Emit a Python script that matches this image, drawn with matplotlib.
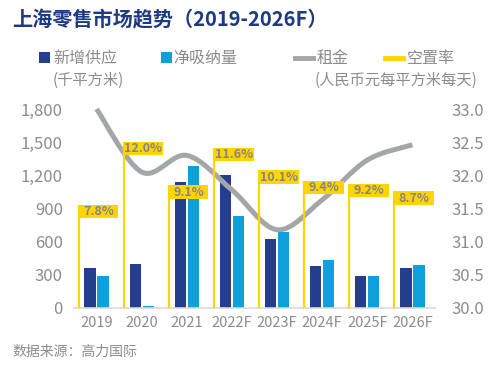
import matplotlib
matplotlib.use("Agg")
import matplotlib.pyplot as plt
from matplotlib.path import Path
from matplotlib.patches import PathPatch, Rectangle
import numpy as np

plt.rcParams['font.family'] = ['Noto Sans CJK SC', 'DejaVu Sans']

categories = ["2019", "2020", "2021", "2022F", "2023F", "2024F", "2025F", "2026F"]
new_supply = [360, 400, 1140, 1200, 620, 380, 290, 360]
net_absorption = [290, 20, 1280, 830, 690, 430, 290, 385]
rent = [33.0, 32.05, 32.3, 31.78, 31.18, 31.63, 32.23, 32.46]
vacancy = [7.8, 12.0, 9.1, 11.6, 10.1, 9.4, 9.2, 8.7]
left_ticks = [0, 300, 600, 900, 1200, 1500, 1800]
right_ticks = [30.0, 30.5, 31.0, 31.5, 32.0, 32.5, 33.0]

DARK = "#243D8C"
LIGHT = "#0FA0DA"
GRAY = "#A4A7A8"
YELLOW = "#FFD500"
TXT = "#8C8C8C"

fig = plt.figure(figsize=(5, 3.7), dpi=100)
ax = fig.add_axes([0.148, 0.1676, 0.722, 0.5378])
x = np.arange(len(categories))

ax.bar(x - 0.145, new_supply, width=0.25, color=DARK, zorder=2)
ax.bar(x + 0.145, net_absorption, width=0.25, color=LIGHT, zorder=2)
ax.set_xlim(-0.5, len(categories) - 0.5)
ax.set_ylim(0, 1800)
ax.set_yticks(left_ticks)
ax.set_yticklabels([f"{v:,}" for v in left_ticks])
ax.set_xticks(x)
ax.set_xticklabels(categories)
for s in ["top", "right", "left"]:
    ax.spines[s].set_visible(False)
ax.spines["bottom"].set_color("#D9D9D9")
ax.spines["bottom"].set_linewidth(1.2)
ax.tick_params(axis="y", length=0, labelsize=12, colors=TXT, pad=8)
ax.tick_params(axis="x", length=0, labelsize=10.5, colors=TXT, pad=6)

# rent axis
ax2 = ax.twinx()
ax2.set_ylim(30.0, 33.0)
ax2.set_yticks(right_ticks)
ax2.set_yticklabels([f"{v:.1f}" for v in right_ticks])
for s in ax2.spines.values():
    s.set_visible(False)
ax2.tick_params(axis="y", length=0, labelsize=12, colors=TXT, pad=12)

# smooth rent line (Catmull-Rom -> Bezier)
pts = np.column_stack([x, rent]).astype(float)
verts = [tuple(pts[0])]
codes = [Path.MOVETO]
n = len(pts)
for i in range(n - 1):
    p0 = pts[i - 1] if i > 0 else pts[i]
    p1 = pts[i]
    p2 = pts[i + 1]
    p3 = pts[i + 2] if i + 2 < n else pts[i + 1]
    c1 = p1 + (p2 - p0) / 6.0
    c2 = p2 - (p3 - p1) / 6.0
    verts += [tuple(c1), tuple(c2), tuple(p2)]
    codes += [Path.CURVE4] * 3
ax2.add_patch(PathPatch(Path(verts, codes), facecolor="none", edgecolor=GRAY,
                        lw=3.6, capstyle="butt", zorder=3, clip_on=False))

# vacancy axis (hidden)
ax3 = ax.twinx()
ax3.set_ylim(0.93, 14.2)
ax3.set_xlim(-0.5, len(categories) - 0.5)
ax3.axis("off")
box_h = 0.9
for i, v in enumerate(vacancy):
    lx = i - 0.40
    ax3.plot([lx, lx], [0.93, v], color=YELLOW, lw=1.6, zorder=4, solid_capstyle="butt")
    ax3.add_patch(Rectangle((lx, v - box_h), 0.88, box_h, facecolor=YELLOW,
                            edgecolor="none", zorder=5))
    ax3.text(lx + 0.44, v - box_h / 2, f"{v:.1f}%", ha="center", va="center",
             fontsize=9, fontweight="bold", color="#858585", zorder=6)

# title
fig.text(0.024, 0.946, "上海零售市场趋势（2019-2026F）", fontsize=14.5, fontweight="bold",
         color="#1F3A82", ha="left", va="center")

# legend
ly = 1 - 58 / 370
ly2 = 1 - 80 / 370
def sq(px, color):
    fig.patches.append(Rectangle((px / 500, ly - 5.5 / 370), 11 / 500, 11 / 370,
                                 facecolor=color, edgecolor="none",
                                 transform=fig.transFigure, figure=fig))
sq(39, DARK)
fig.text(53 / 500, ly, "新增供应", fontsize=11.5, color=TXT, va="center", ha="left")
fig.text(53 / 500, ly2, "(千平方米)", fontsize=11, color=TXT, va="center", ha="left")
sq(161, LIGHT)
fig.text(173 / 500, ly, "净吸纳量", fontsize=11.5, color=TXT, va="center", ha="left")
fig.add_artist(plt.Line2D([295 / 500, 313 / 500], [ly, ly], color=GRAY, lw=3.5,
                          transform=fig.transFigure))
fig.text(317 / 500, ly, "租金", fontsize=11.5, color=TXT, va="center", ha="left")
fig.add_artist(plt.Line2D([385 / 500, 403 / 500], [ly, ly], color=YELLOW, lw=3.5,
                          transform=fig.transFigure))
fig.text(407 / 500, ly, "空置率", fontsize=11.5, color=TXT, va="center", ha="left")
fig.text(315 / 500, ly2, "(人民币元每平方米每天)", fontsize=11, color=TXT, va="center", ha="left")

fig.text(12 / 500, 1 - 352 / 370, "数据来源：高力国际", fontsize=10, color=TXT,
         va="center", ha="left")

fig.savefig("out.png", dpi=100)
